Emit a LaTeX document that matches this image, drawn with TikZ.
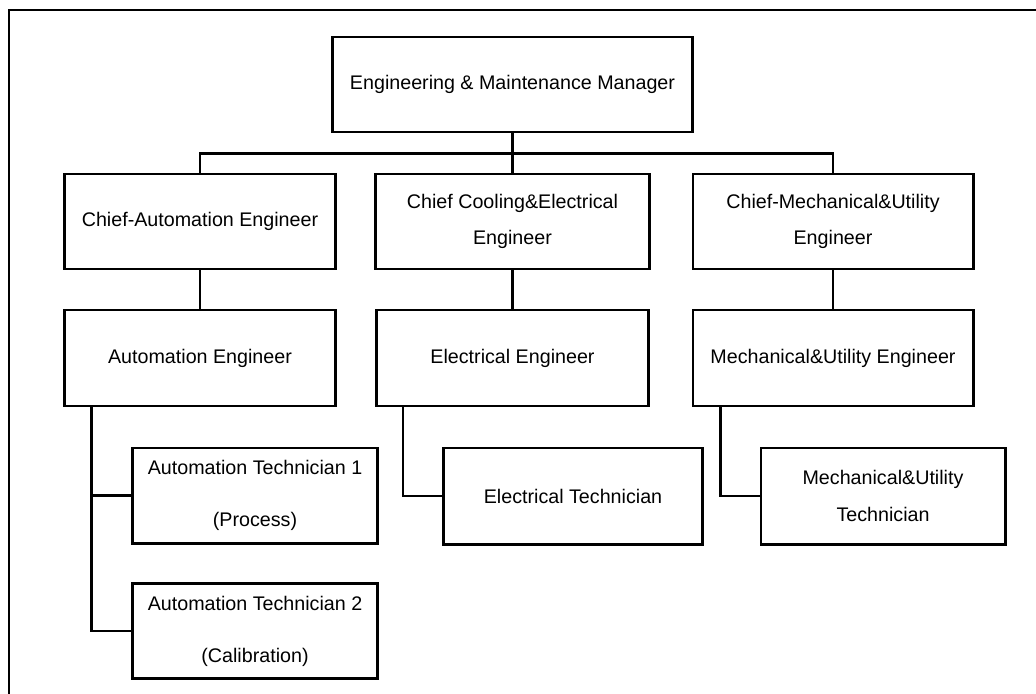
\documentclass[tikz,border=0pt]{standalone}
\usepackage{fontspec}
\setmainfont{Liberation Sans}
\usetikzlibrary{positioning}

\begin{document}
\begin{tikzpicture}[x=0.025cm,y=0.025cm,line width=2.1pt,
        box/.style={draw, rectangle, align=center, inner sep=2pt,
            font=\fontsize{14pt}{17pt}\selectfont, minimum height=2.375cm},
        link/.style={line width=2.1pt}]
        \useasboundingbox (0,0) rectangle (1036,-693);
        \draw[line width=1.3pt] (9,-10) rectangle (1050,-710);

        \node (manager) [box, minimum width=8.975cm] at (512.5,-84.5) {Engineering \& Maintenance Manager};

        \node (chiefAuto) [box, minimum width=6.75cm] at (200,-221.5) {Chief-Automation Engineer};
        \node (chiefElec) [box, minimum width=6.825cm] at (512.5,-221.5) {Chief Cooling\&Electrical\\[9pt]Engineer};
        \node (chiefMech) [box, minimum width=7cm] at (833,-221.5) {Chief-Mechanical\&Utility\\[9pt]Engineer};

        \node (engAuto) [box, minimum width=6.75cm, minimum height=2.4cm, below=0.95cm of chiefAuto] {Automation Engineer};
        \node (engElec) [box, minimum width=6.8cm, minimum height=2.4cm, below=0.95cm of chiefElec] {Electrical Engineer};
        \node (engMech) [box, minimum width=7cm, minimum height=2.4cm, below=0.95cm of chiefMech] {Mechanical\&Utility Engineer};

        \node (techAuto1) [box, minimum width=6.1cm] at (255,-495.5) {Automation Technician 1\\[20pt](Process)};
        \node (techAuto2) [box, minimum width=6.1cm] at (255,-631) {Automation Technician 2\\[20pt](Calibration)};
        \node (techElec) [box, minimum width=6.45cm, minimum height=2.4cm] at (573,-496) {Electrical Technician};
        \node (techMech) [box, minimum width=6.1cm, minimum height=2.4cm] at (883,-496) {Mechanical\&Utility\\[9pt]Technician};

        % manager to chiefs
        \draw[link] (manager.south) -- ++(0,-20) coordinate (bus);
        \draw[link] (bus) -| (chiefAuto.north);
        \draw[link] (bus) -- (chiefElec.north);
        \draw[link] (bus) -| (chiefMech.north);

        % chiefs to engineers
        \draw[link] (chiefAuto) -- (engAuto);
        \draw[link] (chiefElec) -- (engElec);
        \draw[link] (chiefMech) -- (engMech);

        % engineers to technicians
        \draw[link] ([xshift=0.7cm]engAuto.south west) |- (techAuto1.west);
        \draw[link] ([xshift=0.7cm]engAuto.south west) |- (techAuto2.west);
        \draw[link] ([xshift=0.7cm]engElec.south west) |- (techElec.west);
        \draw[link] ([xshift=0.72cm]engMech.south west) |- (techMech.west);
    \end{tikzpicture}
\end{document}
